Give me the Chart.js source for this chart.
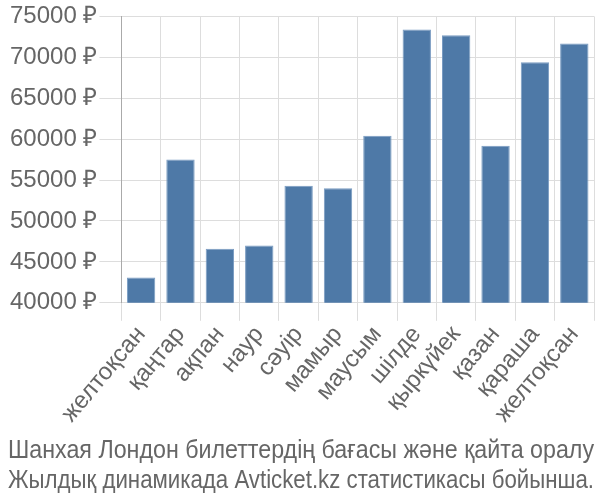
<!DOCTYPE html>
<html>
<head>
<meta charset="utf-8">
<script src="https://cdn.jsdelivr.net/npm/chart.js@4"></script>
<style>
  html, body { margin: 0; padding: 0; background: #fff; }
  #wrap { width: 600px; height: 500px; }
</style>
</head>
<body>
<div id="wrap"><canvas id="priceChart"></canvas></div>
<script>
const months = ['желтоқсан', 'қаңтар', 'ақпан', 'наур', 'сәуір', 'мамыр', 'маусым', 'шілде', 'қыркүйек', 'қазан', 'қараша', 'желтоқсан'];
const prices = [43100, 57500, 46600, 47000, 54300, 54000, 60400, 73400, 72700, 59200, 69400, 71700];
const titleLines = ['Шанхая Лондон билеттердің бағасы және қайта оралу', 'Жылдық динамикада Avticket.kz статистикасы бойынша.'];

Chart.defaults.font.family = '"Liberation Sans", Arial, sans-serif';
Chart.defaults.color = '#666';

const ctx = document.getElementById('priceChart').getContext('2d');
new Chart(ctx, {
    type: 'bar',
    data: {
        labels: months,
        datasets: [{
            data: prices,
            backgroundColor: '#4e79a7',
            borderColor: '#7a9cc2',
            borderWidth: 1
        }]
    },
    options: {
        responsive: true,
        maintainAspectRatio: false,
        animation: false,
        layout: { padding: { top: 6, right: 6, left: 8, bottom: 0 } },
        plugins: {
            legend: { display: false },
            tooltip: { enabled: false },
            title: {
                display: true,
                position: 'bottom',
                text: titleLines,
                color: '#666',
                font: { size: 25, weight: 'normal', lineHeight: 1.2 },
                padding: { top: 8, bottom: 4 }
            }
        },
        scales: {
            x: {
                grid: { color: '#ddd', tickLength: 18 },
                border: { color: '#ddd' },
                ticks: {
                    font: { size: 24 },
                    autoSkip: false,
                    maxRotation: 50,
                    minRotation: 50,
                    padding: 0
                }
            },
            y: {
                min: 40000,
                max: 75000,
                grid: { color: '#ddd', tickLength: 22 },
                border: { color: '#aaa' },
                ticks: {
                    stepSize: 5000,
                    font: { size: 24 },
                    padding: 2,
                    callback: v => v + ' ₽'
                }
            }
        }
    }
});
</script>
</body>
</html>
